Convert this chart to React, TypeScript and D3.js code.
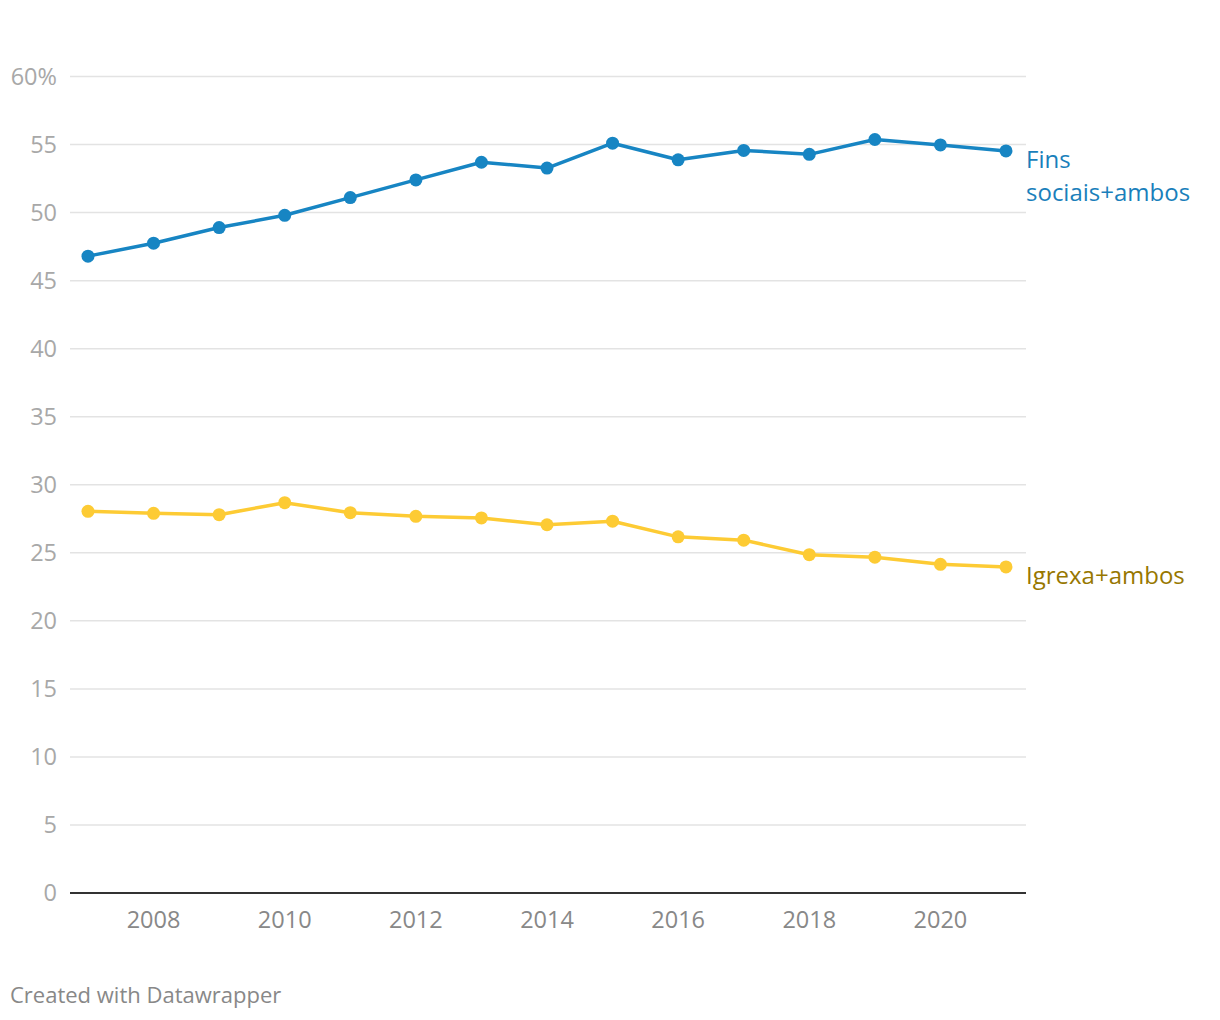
import React from "react";
import * as d3 from "d3";

const years = [2007, 2008, 2009, 2010, 2011, 2012, 2013, 2014, 2015, 2016, 2017, 2018, 2019, 2020, 2021];
const finsSociais = [46.8, 47.75, 48.9, 49.8, 51.1, 52.4, 53.7, 53.27, 55.1, 53.88, 54.57, 54.28, 55.37, 54.97, 54.53];
const igrexa = [28.05, 27.9, 27.8, 28.68, 27.95, 27.68, 27.56, 27.06, 27.32, 26.17, 25.93, 24.86, 24.68, 24.15, 23.96];
const yTicks = [0, 5, 10, 15, 20, 25, 30, 35, 40, 45, 50, 55, 60];
const xTicks = [2008, 2010, 2012, 2014, 2016, 2018, 2020];

const FONT = "'Open Sans', 'Noto Sans', sans-serif";

export default function App() {
  const W = 1220, H = 1020;
  const x = d3.scaleLinear().domain([2007, 2021]).range([88, 1006]);
  const y = d3.scaleLinear().domain([0, 60]).range([893, 76.5]);
  const line = d3.line<number>().x((_, i) => x(years[i])).y(d => y(d));

  const series = [
    { values: finsSociais, color: "#1785c3" },
    { values: igrexa, color: "#fdcb34" },
  ];

  return (
    <svg width={W} height={H} style={{ position: "absolute", left: 0, top: 0, background: "#fff" }} fontFamily={FONT}>
      {yTicks.map(t => (
        <g key={t}>
          {t !== 0 && <line x1={70} x2={1026} y1={y(t)} y2={y(t)} stroke="#e3e3e3" strokeWidth={1.5} />}
          <text x={57} y={y(t)} dy="0.35em" textAnchor="end" fontSize={23.5} fill="#a8a8a8">
            {t === 60 ? "60%" : t}
          </text>
        </g>
      ))}
      <line x1={70} x2={1026} y1={y(0)} y2={y(0)} stroke="#333" strokeWidth={2} />
      {xTicks.map(t => (
        <text key={t} x={x(t)} y={928} textAnchor="middle" fontSize={23.5} fill="#888">{t}</text>
      ))}
      {series.map((s, si) => (
        <g key={si}>
          <path d={line(s.values) || ""} fill="none" stroke={s.color} strokeWidth={3.5} strokeLinejoin="round" />
          {s.values.map((v, i) => (
            <circle key={i} cx={x(years[i])} cy={y(v)} r={6.5} fill={s.color} />
          ))}
        </g>
      ))}
      <text x={1026} y={168} fontSize={24} fill="#1a7fbb">Fins</text>
      <text x={1026} y={201} fontSize={24} fill="#1a7fbb">sociais+ambos</text>
      <text x={1026} y={584} fontSize={24} fill="#977700">Igrexa+ambos</text>
      <text x={10} y={1003} fontSize={22} fill="#888">Created with Datawrapper</text>
    </svg>
  );
}
